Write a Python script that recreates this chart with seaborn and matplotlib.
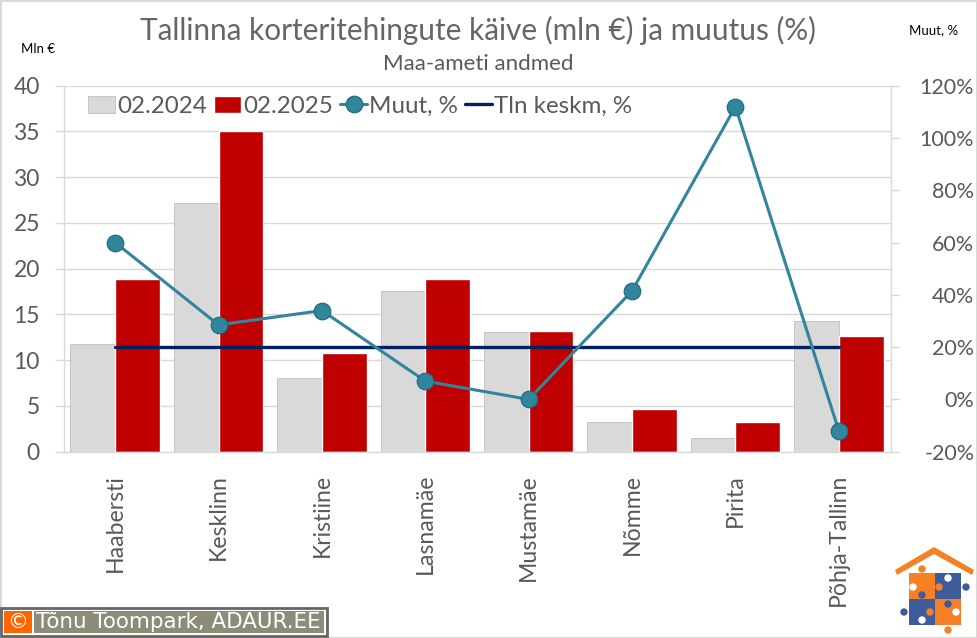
import numpy as np
import pandas as pd
import matplotlib
matplotlib.use('Agg')
import matplotlib.pyplot as plt
from matplotlib.lines import Line2D
from matplotlib.patches import Patch, Rectangle, Circle, Polygon
import seaborn as sns

piirkonnad = ['Haabersti', 'Kesklinn', 'Kristiine', 'Lasnamäe', 'Mustamäe', 'Nõmme', 'Pirita', 'Põhja-Tallinn']
kaive_2024 = [11.8, 27.2, 8.0, 17.6, 13.1, 3.3, 1.5, 14.3]
kaive_2025 = [18.9, 35.0, 10.8, 18.9, 13.2, 4.7, 3.3, 12.6]
muutus = [60, 28.5, 34, 7, 0, 41.5, 112, -12]
tln_keskm = [20, 20, 20, 20, 20, 20, 20, 20]

HALL = '#D9D9D9'
PUNANE = '#C00000'
TEAL = '#31859C'
NAVY = '#002060'
TEKST = '#595959'

sns.set_theme(style='white')
plt.rcParams['font.family'] = ['Lato', 'DejaVu Sans']

W, H = 977, 638
fig = plt.figure(figsize=(W / 100, H / 100), dpi=100)
ax = fig.add_axes([63.5 / W, 1 - 451.7 / H, (890.5 - 63.5) / W, (451.7 - 85.7) / H])

df = pd.DataFrame({'piirkond': piirkonnad * 2,
                   'kaive': kaive_2024 + kaive_2025,
                   'aasta': ['02.2024'] * 8 + ['02.2025'] * 8})
sns.barplot(data=df, x='piirkond', y='kaive', hue='aasta', palette=[HALL, PUNANE],
            width=0.865, gap=0, saturation=1, legend=False, zorder=2, ax=ax)
for bar in ax.patches[:8]:
    bar.set_edgecolor('#BFBFBF')
    bar.set_linewidth(0.6)

ax.set_xlim(-0.5, 7.5)
ax.set_ylim(0, 40)
ax.set_yticks(range(0, 41, 5))
ax.grid(axis='y', color='#D9D9D9', lw=1, zorder=0)
ax.set_axisbelow(True)
ax.set_xlabel('')
ax.set_ylabel('')
ax.tick_params(axis='y', left=True, labelsize=16.5, labelcolor=TEKST, color='#D9D9D9', length=6.5, width=1, pad=10.5)
ax.tick_params(axis='x', labelsize=16.6, labelcolor=TEKST, length=0, pad=16)
plt.setp(ax.get_xticklabels(), rotation=90)
for s in ['top', 'right']:
    ax.spines[s].set_visible(False)
for s in ['left', 'bottom']:
    ax.spines[s].set_color('#D9D9D9')
    ax.spines[s].set_linewidth(1)

ax2 = ax.twinx()
x_pos = np.arange(len(piirkonnad))
sns.lineplot(x=x_pos, y=tln_keskm, color=NAVY, lw=2.4, ax=ax2, legend=False, zorder=3)
sns.lineplot(x=x_pos, y=muutus, color=TEAL, lw=2.2, marker='o', markersize=12,
             markeredgecolor='#20687C', markeredgewidth=0.8, ax=ax2, legend=False, zorder=4)
ax2.set_ylim(-20, 120)
ax2.set_yticks(range(-20, 121, 20))
ax2.set_yticklabels([f'{v}%' for v in range(-20, 121, 20)], ha='right')
ax2.set_ylabel('')
ax2.tick_params(axis='y', right=True, labelsize=15.5, labelcolor=TEKST, color='#D9D9D9', length=5.8, width=1, pad=54.5)
ax2.grid(False)
for s in ['top', 'left', 'bottom']:
    ax2.spines[s].set_visible(False)
ax2.spines['right'].set_color('#D9D9D9')
ax2.spines['right'].set_linewidth(1)

# legend
kasitsi = [Patch(facecolor=HALL, edgecolor='#BFBFBF', lw=0.6, label='02.2024'),
           Patch(facecolor=PUNANE, label='02.2025'),
           Line2D([], [], color=TEAL, lw=2.2, marker='o', markersize=12,
                  markeredgecolor='#20687C', markeredgewidth=0.8, label='Muut, %'),
           Line2D([], [], color=NAVY, lw=2.4, label='Tln keskm, %')]
leg = ax2.legend(handles=kasitsi, loc='upper left', bbox_to_anchor=(0.021, 0.993), ncol=4, frameon=False,
                 fontsize=17.4, labelcolor=TEKST, columnspacing=0.3, handletextpad=0.1,
                 handlelength=1.1, borderpad=0.2, borderaxespad=0.1)
leg.set_zorder(10)

# titles
fig.text(478 / W, 1 - 30 / H, 'Tallinna korteritehingute käive (mln €) ja muutus (%)',
         ha='center', va='center', fontsize=21.4, color='#666666')
fig.text(478 / W, 1 - 64.5 / H, 'Maa-ameti andmed', ha='center', va='center', fontsize=16, color=TEKST)
fig.text(38 / W, 1 - 49 / H, 'Mln €', ha='center', va='center', fontsize=9.5, color='black')
fig.text(934 / W, 1 - 30 / H, 'Muut, %', ha='center', va='center', fontsize=9.5, color='black')

# overlay in pixel coordinates: frame, credit and logo
ov = fig.add_axes([0, 0, 1, 1], zorder=20)
ov.set_xlim(0, W)
ov.set_ylim(H, 0)
ov.axis('off')
ov.patch.set_alpha(0)
ov.add_patch(Rectangle((0.5, 0.5), W - 1, H - 1, fill=False, ec='#D9D9D9', lw=1.5))

ov.add_patch(Rectangle((1, 608), 326, 28, fc='white', ec='#666666', lw=2))
ov.add_patch(Rectangle((4, 611), 28, 22, fc='#FF6600', ec='none'))
ov.add_patch(Rectangle((34, 611), 290, 22, fc='#8C8C78', ec='none'))
ov.text(18, 622, '©', ha='center', va='center', fontsize=15, color='white', family='DejaVu Sans')
ov.text(36, 622, 'Tõnu Toompark, ADAUR.EE', ha='left', va='center', fontsize=15.4, color='white', family='DejaVu Sans')

ORANZ = '#F58025'
SININE = '#3F5C9A'
ov.add_patch(Polygon([(895, 570), (934, 547), (974, 570), (972, 575), (934, 554), (897, 575)], fc=ORANZ, ec='none'))
ov.add_patch(Rectangle((909, 573), 26, 26, fc=ORANZ, ec='none'))
ov.add_patch(Rectangle((935, 573), 26, 26, fc=SININE, ec='none'))
ov.add_patch(Rectangle((909, 599), 26, 26, fc=SININE, ec='none'))
ov.add_patch(Rectangle((935, 599), 26, 26, fc=ORANZ, ec='none'))
for cx, cy, c in [(922, 569, ORANZ), (948, 578, 'white'), (966, 587, SININE), (913, 587, 'white'),
                  (939, 587, ORANZ), (922, 595, SININE), (948, 604, SININE), (904, 612, SININE),
                  (930, 612, ORANZ), (956, 612, 'white'), (922, 620, 'white'), (948, 630, ORANZ)]:
    ov.add_patch(Circle((cx, cy), 3.7, fc=c, ec='none'))

fig.savefig('out.png', dpi=100, facecolor='white')
